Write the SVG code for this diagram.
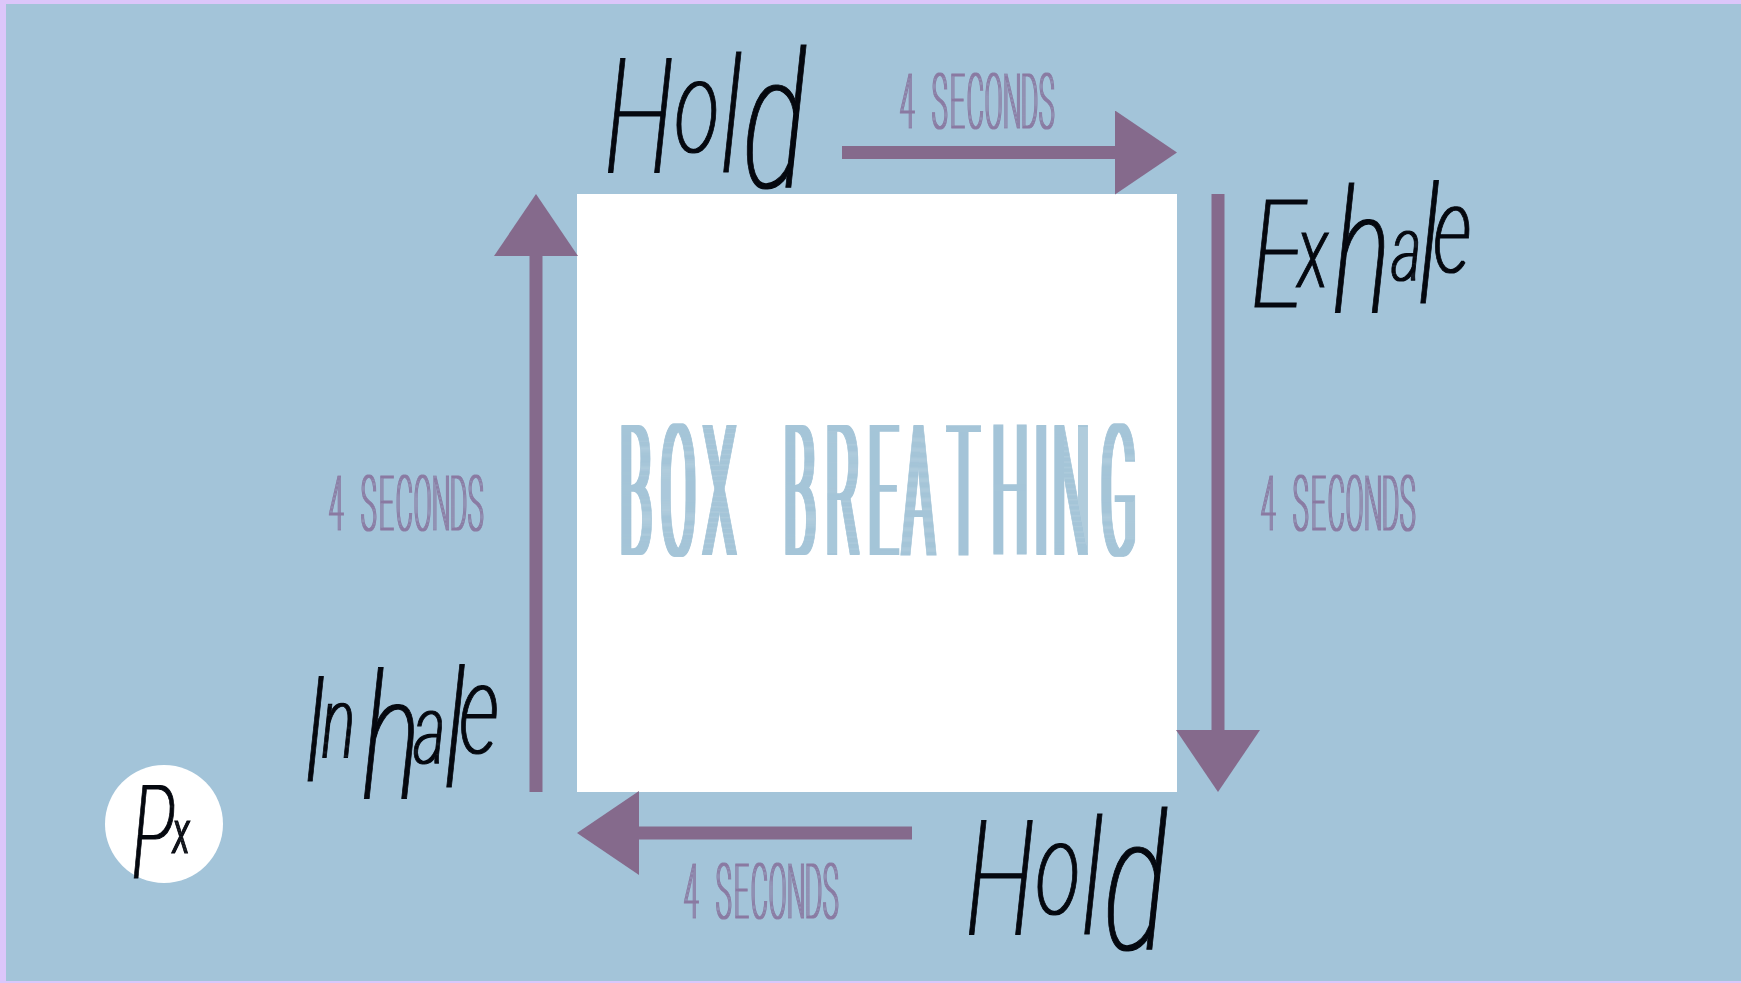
<svg xmlns="http://www.w3.org/2000/svg" width="1741" height="983" viewBox="0 0 1741 983">
<style>
.sec{font-family:"Roboto","Liberation Sans",sans-serif;font-weight:100;font-size:76px;fill:#8a7aa2;stroke:#8a7aa2;stroke-width:1px}
.hand{font-family:"Roboto","Liberation Sans",sans-serif;font-style:italic;font-weight:100;fill:#05080f;stroke:#05080f;stroke-width:1.2px}
.title{font-family:"Roboto","Liberation Sans",sans-serif;font-weight:100;font-size:180px;fill:#a5c5d8;stroke:#a5c5d8;stroke-width:2px}
.shaft{stroke:#856a8c;stroke-width:13;fill:none;marker-end:url(#head)}
</style>
<defs>
<marker id="head" markerUnits="userSpaceOnUse" markerWidth="62" markerHeight="84" refX="0" refY="42" orient="auto"><polygon points="0,0 62,42 0,84" fill="#856a8c"/></marker>
<filter id="fatT" x="-5%" y="-5%" width="110%" height="110%" color-interpolation-filters="sRGB"><feMorphology operator="dilate" radius="3.500 0"/></filter>
<filter id="fatS" x="-5%" y="-5%" width="110%" height="110%" color-interpolation-filters="sRGB"><feMorphology operator="dilate" radius="1 0"/></filter>
</defs>
<rect width="1741" height="983" fill="#dcc6fa"/>
<rect x="6" y="4" width="1735" height="977" fill="#a3c4d9"/>
<g id="box"><rect x="577" y="194" width="600" height="598" fill="#fff"/>
<g filter="url(#fatT)"><text class="title" transform="translate(0,554) scale(0.27,1)" x="2300 2452 2611 2778 2907 3063 3219 3348 3515 3678 3833 3904 4081">BOX BREATHING</text></g></g>
<g id="connectors">
<line class="shaft" x1="842" y1="152.500" x2="1115" y2="152.500"/>
<line class="shaft" x1="1218" y1="194" x2="1218" y2="730"/>
<line class="shaft" x1="912" y1="833" x2="639" y2="833"/>
<line class="shaft" x1="536" y1="792" x2="536" y2="256"/>
</g>
<g id="hold-top" filter="url(#fatS)"><text class="hand" transform="scale(0.62,1)"><tspan x="976" y="172" font-size="160">H</tspan><tspan x="1089" y="152" font-size="130">o</tspan><tspan x="1163" y="172" font-size="160">l</tspan><tspan x="1198" y="187" font-size="190">d</tspan></text></g>
<g id="exhale" filter="url(#fatS)"><text class="hand" transform="scale(0.62,1)"><tspan x="2019" y="307" font-size="150">E</tspan><tspan x="2094" y="287" font-size="102">x</tspan><tspan x="2150" y="313" font-size="173">h</tspan><tspan x="2245" y="280" font-size="90">a</tspan><tspan x="2287" y="303" font-size="164">l</tspan><tspan x="2313" y="272" font-size="120">e</tspan></text></g>
<g id="hold-bottom" filter="url(#fatS)"><text class="hand" transform="translate(361,762) scale(0.62,1)"><tspan x="976" y="172" font-size="160">H</tspan><tspan x="1089" y="152" font-size="130">o</tspan><tspan x="1163" y="172" font-size="160">l</tspan><tspan x="1198" y="187" font-size="190">d</tspan></text></g>
<g id="inhale" filter="url(#fatS)"><text class="hand" transform="scale(0.62,1)"><tspan x="489" y="781" font-size="146">I</tspan><tspan x="519" y="757" font-size="100">n</tspan><tspan x="584" y="798" font-size="175">h</tspan><tspan x="668" y="763" font-size="96">a</tspan><tspan x="716" y="787" font-size="163">l</tspan><tspan x="742" y="753" font-size="125">e</tspan></text></g>
<g id="label-top" filter="url(#fatS)"><text class="sec" transform="translate(900,128) scale(0.34,1)" x="0 47 94 147 197 250 303 356 409">4 SECONDS</text></g>
<g id="label-right" filter="url(#fatS)"><text class="sec" transform="translate(1261,530) scale(0.34,1)" x="0 47 94 147 197 250 303 356 409">4 SECONDS</text></g>
<g id="label-bottom" filter="url(#fatS)"><text class="sec" transform="translate(684,918) scale(0.34,1)" x="0 47 94 147 197 250 303 356 409">4 SECONDS</text></g>
<g id="label-left" filter="url(#fatS)"><text class="sec" transform="translate(329,530) scale(0.34,1)" x="0 47 94 147 197 250 303 356 409">4 SECONDS</text></g>
<g id="logo"><circle cx="164" cy="824" r="59" fill="#fff"/><g filter="url(#fatS)"><text class="hand" transform="scale(0.55,1)"><tspan x="240" y="878" font-size="130">P</tspan><tspan x="315" y="853" font-size="62">x</tspan></text></g></g>
</svg>
